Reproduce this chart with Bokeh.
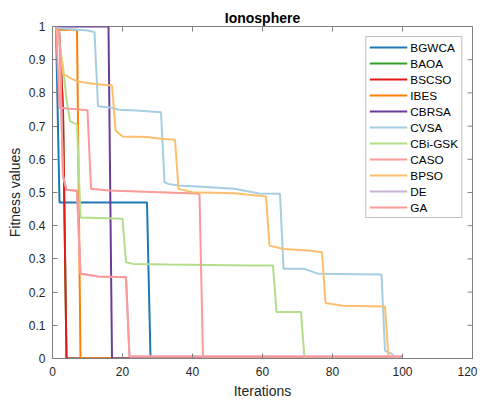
import math
from bokeh.plotting import figure
from bokeh.models import (Range1d, FixedTicker, CustomJSTickFormatter,
                          Legend, LegendItem)
from bokeh.embed import file_html
from bokeh.resources import INLINE

# ---- data (polyline vertices; iterations 1..100) ----
names = ["BGWCA", "BAOA", "BSCSO", "IBES", "CBRSA", "CVSA", "CBi-GSK",
         "CASO", "BPSO", "DE", "GA"]
colors = ["#1f78b4", "#33a02c", "#e31a1c", "#ff7f00", "#6a3d9a", "#a6cee3",
          "#b2df8a", "#fb9a99", "#fdbf6f", "#cab2d6", "#fb9a99"]

bgwca_x = [1, 2, 27, 28, 100]
bgwca_y = [1.0, 0.47, 0.47, 0.0, 0.0]

baoa_x = [1, 2, 3, 4, 100]
baoa_y = [1.0, 0.97, 0.75, 0.0, 0.0]

bscso_x = [1, 2, 3, 4, 100]
bscso_y = [1.0, 0.97, 0.75, 0.0, 0.0]

ibes_x = [1, 2, 7, 8, 100]
ibes_y = [1.0, 0.99, 0.99, 0.0, 0.0]

cbrsa_x = [1, 16, 17, 100]
cbrsa_y = [1.0, 1.0, 0.0, 0.0]

cvsa_x = [1, 2, 10, 12, 13, 17, 19, 24, 27, 31, 32, 33, 36, 45, 52, 59, 65,
          66, 72, 76, 94, 95, 97, 98, 100]
cvsa_y = [1.0, 0.995, 0.988, 0.983, 0.76, 0.755, 0.749, 0.747, 0.745, 0.742,
          0.531, 0.526, 0.521, 0.516, 0.511, 0.497, 0.496, 0.27, 0.27, 0.255,
          0.253, 0.024, 0.014, 0.0, 0.0]

cbigsk_x = [1, 2, 3, 4, 5, 6, 7, 8, 20, 21, 23, 33, 56, 63, 64, 71, 72, 100]
cbigsk_y = [1.0, 0.95, 0.88, 0.78, 0.715, 0.71, 0.705, 0.425, 0.421, 0.29,
            0.285, 0.283, 0.28, 0.28, 0.14, 0.14, 0.0, 0.0]

caso_x = [1, 2, 10, 11, 16, 41, 42, 43, 100]
caso_y = [1.0, 0.755, 0.748, 0.511, 0.506, 0.497, 0.495, 0.0, 0.0]

bpso_x = [1, 2, 3, 5, 7, 12, 17, 18, 20, 27, 31, 35, 36, 40, 52, 61, 62, 66,
          73, 77, 78, 83, 95, 96, 100]
bpso_y = [1.0, 0.95, 0.858, 0.845, 0.835, 0.827, 0.822, 0.687, 0.669, 0.667,
          0.662, 0.659, 0.511, 0.501, 0.498, 0.488, 0.34, 0.33, 0.325, 0.32,
          0.167, 0.159, 0.157, 0.0, 0.0]

de_x = [1, 2, 3, 4, 7, 8, 10, 13, 21, 22, 100]
de_y = [1.0, 0.98, 0.55, 0.508, 0.505, 0.255, 0.252, 0.247, 0.245, 0.006, 0.006]

ga_x = [1, 2, 3, 4, 7, 8, 10, 13, 21, 22, 100]
ga_y = [1.0, 0.98, 0.55, 0.508, 0.505, 0.255, 0.252, 0.247, 0.245, 0.006, 0.006]

series_x = [bgwca_x, baoa_x, bscso_x, ibes_x, cbrsa_x, cvsa_x, cbigsk_x,
            caso_x, bpso_x, de_x, ga_x]
series_y = [bgwca_y, baoa_y, bscso_y, ibes_y, cbrsa_y, cvsa_y, cbigsk_y,
            caso_y, bpso_y, de_y, ga_y]

x_ticks = [0, 20, 40, 60, 80, 100, 120]
y_ticks = [round(i * 0.1, 1) for i in range(11)]
x_lo, x_hi = 0, 120
y_lo, y_hi = 0, 1

FONT = "Liberation Sans"
AXC = "#808080"
TXC = "#262626"

p = figure(frame_width=420, frame_height=332, output_backend="svg",
           toolbar_location=None,
           x_range=Range1d(x_lo, x_hi), y_range=Range1d(y_lo, y_hi),
           title="Ionosphere",
           min_border_left=52, min_border_right=5,
           min_border_top=26, min_border_bottom=44)
p.background_fill_color = "white"
p.border_fill_color = "white"
p.outline_line_color = AXC
p.outline_line_width = 1
p.grid.visible = False

p.title.align = "center"
p.title.text_font = FONT
p.title.text_font_size = "14px"
p.title.text_font_style = "bold"
p.title.text_color = "black"
p.title.standoff = 2

fmt_y = CustomJSTickFormatter(code="return tick.toFixed(1).replace(/\\.0$/, '');")

for ax in (p.xaxis[0], p.yaxis[0]):
    ax.axis_line_color = AXC
    ax.major_tick_line_color = AXC
    ax.major_tick_in = 5
    ax.major_tick_out = 0
    ax.minor_tick_line_color = None
    ax.major_label_text_font = FONT
    ax.major_label_text_font_size = "12px"
    ax.major_label_text_color = TXC
    ax.axis_label_text_font = FONT
    ax.axis_label_text_font_size = "14px"
    ax.axis_label_text_font_style = "normal"
    ax.axis_label_text_color = TXC

p.xaxis[0].ticker = FixedTicker(ticks=x_ticks)
p.xaxis[0].axis_label = "Iterations"
p.xaxis[0].major_label_standoff = 8
p.xaxis[0].axis_label_standoff = 4
p.yaxis[0].ticker = FixedTicker(ticks=y_ticks)
p.yaxis[0].formatter = fmt_y
p.yaxis[0].axis_label = "Fitness values"
p.yaxis[0].major_label_standoff = 7
p.yaxis[0].axis_label_standoff = 3

# inward ticks on the top and right edges of the box (half of each dash is clipped)
p.scatter(x_ticks, [y_hi] * len(x_ticks), marker="dash", size=10,
          angle=math.pi / 2, line_color=AXC, line_width=1)
p.scatter([x_hi] * len(y_ticks), y_ticks, marker="dash", size=10,
          line_color=AXC, line_width=1)

items = []
for name, col, xs, ys in zip(names, colors, series_x, series_y):
    r = p.line(xs, ys, line_color=col, line_width=2)
    items.append(LegendItem(label=name, renderers=[r]))

legend = Legend(items=items, location="top_right")
legend.label_text_font = FONT
legend.label_text_font_size = "11.75px"
legend.label_text_color = "black"
legend.glyph_width = 38
legend.glyph_height = 14
legend.label_height = 14
legend.label_standoff = 3
legend.spacing = 2
legend.padding = 3
legend.margin = 10
legend.border_line_color = AXC
legend.border_line_width = 1
legend.background_fill_color = "white"
p.add_layout(legend)

open("out.html", "w").write(file_html(p, INLINE))
